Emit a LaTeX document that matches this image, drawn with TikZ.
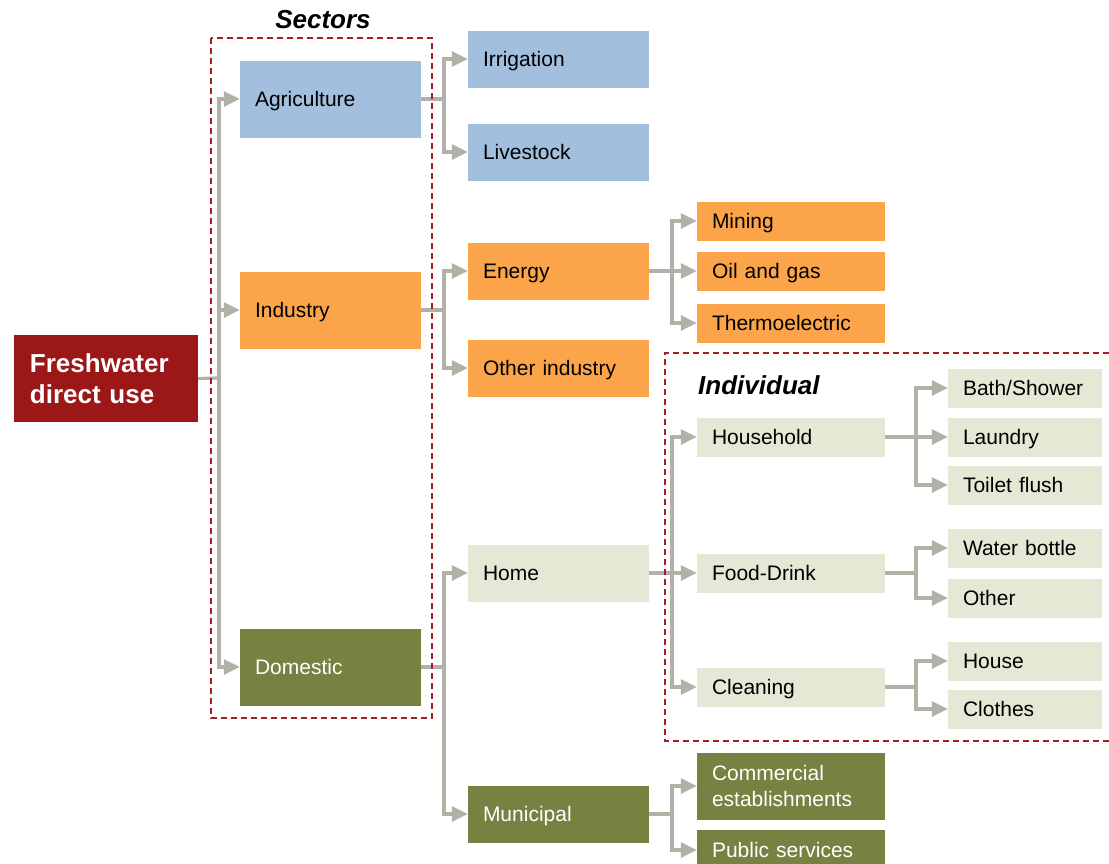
\documentclass[tikz,border=0pt]{standalone}
\usepackage{fontspec}
\setmainfont{Liberation Sans}
\usetikzlibrary{arrows.meta}
\definecolor{agblue}{HTML}{A3BFDE}
\definecolor{indorange}{HTML}{FBA44A}
\definecolor{domgreen}{HTML}{788141}
\definecolor{beigebox}{HTML}{E6E8D5}
\definecolor{fwred}{HTML}{9B1718}
\definecolor{conngray}{HTML}{B3B0A8}
\definecolor{dashred}{HTML}{A31F24}
\begin{document}
\begin{tikzpicture}[x=1pt,y=-1pt,
  base/.style={rectangle, inner xsep=15pt, inner ysep=0pt, align=left,
    font=\fontsize{21}{26}\selectfont},
  single/.style={text height=15pt, text depth=0pt},
  lvA/.style={base, single, text width=151pt, minimum height=77pt},
  lvB/.style={base, single, text width=151pt, minimum height=57pt},
  lvC/.style={base, single, text width=158pt, minimum height=39pt},
  lvD/.style={base, single, text width=124pt, minimum height=39pt},
  blue/.style={fill=agblue, text=black},
  orng/.style={fill=indorange, text=black},
  olive/.style={fill=domgreen, text=white},
  beig/.style={fill=beigebox, text=black},
  conn/.style={draw=conngray, line width=3.2pt},
  arr/.style={conn, -{Triangle[length=16pt,width=15pt]}},
  groupbox/.style={draw=dashred, line width=1.8pt, dash pattern=on 6pt off 4pt},
  grouptitle/.style={font=\fontsize{26}{30}\selectfont\bfseries\itshape, inner sep=0pt}
]
\useasboundingbox (0,0) rectangle (1109,863);

% root
\node[rectangle, fill=fwred, text=white, text width=152pt, inner xsep=16pt, inner ysep=0pt,
  minimum height=87pt, align=left,
  font=\fontsize{26}{31}\selectfont\bfseries]
  (fresh) at (106,378.5) {Freshwater\\direct use};

% sectors
\node[lvA, blue]  (agri) at (330.5,99)  {Agriculture};
\node[lvA, orng]  (ind)  at (330.5,310) {Industry};
\node[lvA, olive] (dom)  at (330.5,667) {Domestic};

% level 2
\node[lvB, blue]  (irr)   at (558.5,59)  {Irrigation};
\node[lvB, blue]  (live)  at (558.5,152) {Livestock};
\node[lvB, orng]  (energy) at (558.5,271) {Energy};
\node[lvB, orng]  (oind)  at (558.5,368) {Other industry};
\node[lvB, beig]  (home)  at (558.5,573) {Home};
\node[lvB, olive] (muni)  at (558.5,814) {Municipal};

% level 3
\node[lvC, orng]  (mining) at (791,221) {Mining};
\node[lvC, orng]  (oil)    at (791,271) {Oil and gas};
\node[lvC, orng]  (thermo) at (791,323) {Thermoelectric};
\node[lvC, beig]  (hh)     at (791,437) {Household};
\node[lvC, beig]  (food)   at (791,573) {Food-Drink};
\node[lvC, beig]  (clean)  at (791,687) {Cleaning};
\node[base, olive, text width=158pt, minimum height=67pt] (comm) at (791,786) {Commercial\\establishments};
\node[lvC, olive, minimum height=40pt] (pub)  at (791,850) {Public services};

% level 4
\node[lvD, beig] (bath)    at (1025,388) {Bath/Shower};
\node[lvD, beig] (laundry) at (1025,437) {Laundry};
\node[lvD, beig] (toilet)  at (1025,485) {Toilet flush};
\node[lvD, beig] (water)   at (1025,548) {Water bottle};
\node[lvD, beig] (other)   at (1025,598) {Other};
\node[lvD, beig] (house)   at (1025,661) {House};
\node[lvD, beig] (clothes) at (1025,709) {Clothes};

% junctions
\coordinate (j0) at (219,378);
\coordinate (j1) at (444,99);
\coordinate (j2) at (444,310);
\coordinate (j3) at (444,667);
\coordinate (j4) at (672,271);
\coordinate (j5) at (672,573);
\coordinate (j6) at (916,437);
\coordinate (j7) at (916,573);
\coordinate (j8) at (916,687);
\coordinate (j9) at (672,814);

\draw[conn] (fresh.east) -- (j0);
\draw[arr] (j0) |- (agri.west);
\draw[arr] (j0) |- (ind.west);
\draw[arr] (j0) |- (dom.west);

\draw[conn] (agri.east) -- (j1);
\draw[arr] (j1) |- (irr.west);
\draw[arr] (j1) |- (live.west);

\draw[conn] (ind.east) -- (j2);
\draw[arr] (j2) |- (energy.west);
\draw[arr] (j2) |- (oind.west);

\draw[conn] (dom.east) -- (j3);
\draw[arr] (j3) |- (home.west);
\draw[arr] (j3) |- (muni.west);

\draw[conn] (energy.east) -- (j4);
\draw[arr] (j4) |- (mining.west);
\draw[arr] (j4) |- (oil.west);
\draw[arr] (j4) |- (thermo.west);

\draw[conn] (home.east) -- (j5);
\draw[arr] (j5) |- (hh.west);
\draw[arr] (j5) |- (food.west);
\draw[arr] (j5) |- (clean.west);

\draw[conn] (hh.east) -- (j6);
\draw[arr] (j6) |- (bath.west);
\draw[arr] (j6) |- (laundry.west);
\draw[arr] (j6) |- (toilet.west);

\draw[conn] (food.east) -- (j7);
\draw[arr] (j7) |- (water.west);
\draw[arr] (j7) |- (other.west);

\draw[conn] (clean.east) -- (j8);
\draw[arr] (j8) |- (house.west);
\draw[arr] (j8) |- (clothes.west);

\draw[conn] (muni.east) -- (j9);
\draw[arr] (j9) |- (comm.west);
\draw[arr] (j9) |- (pub.west);

% group boxes
\draw[groupbox] (211,38) rectangle (432,718);
\node[grouptitle] (sectorsT) at (323,20) {Sectors};
\draw[groupbox] (1109,353) -- (665,353) -- (665,741) -- (1109,741);
\node[grouptitle, anchor=west] (indivT) at (698,385) {Individual};
\end{tikzpicture}
\end{document}
